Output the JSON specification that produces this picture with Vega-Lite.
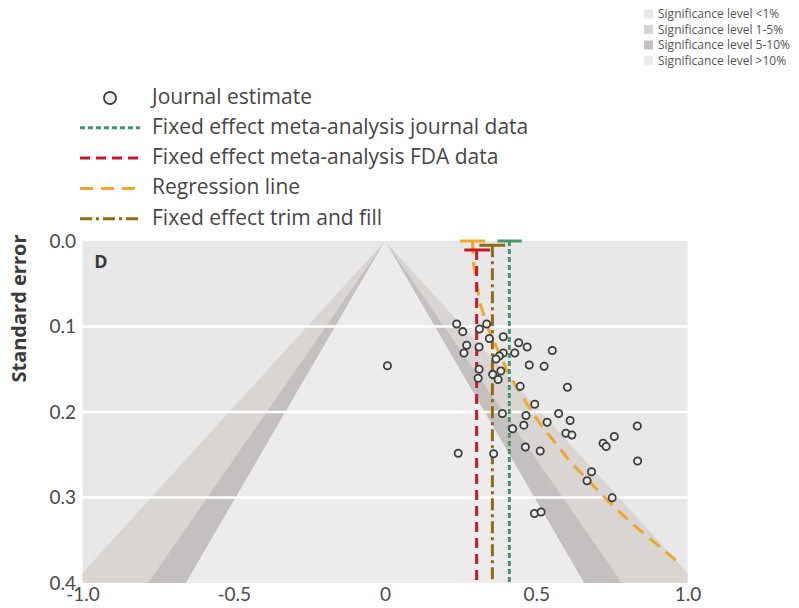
{
  "$schema": "https://vega.github.io/schema/vega-lite/v6.json",
  "width": 605,
  "height": 342,
  "autosize": {"type": "none"},
  "padding": {"left": 82.5, "top": 241, "right": 111.5, "bottom": 25},
  "config": {
    "font": "Open Sans",
    "view": {"fill": "#e8e8e8", "stroke": null},
    "legend": {"orient": "none", "legendX": 11, "legendY": -159, "padding": 0, "symbolSize": 900, "symbolStrokeWidth": 3, "symbolFillColor": "#e2e2e2", "labelFont": "Open Sans", "labelFontSize": 21, "labelColor": "#4a4545", "labelOffset": 25.5, "rowPadding": 3.3, "labelLimit": 700},
    "axisY": {"grid": false, "ticks": false, "domain": false, "labelFont": "Lato", "labelFontSize": 19, "labelColor": "#4a4a4a", "labelPadding": 7, "titleFont": "Open Sans", "titleFontSize": 20, "titleFontWeight": "bold", "titleColor": "#3a3a3a", "titleAnchor": "start", "titleAlign": "right", "titleY": -7, "titlePadding": 19},
    "axisX": {"grid": false, "domain": false, "ticks": true, "tickColor": "#ffffff", "tickSize": -5, "tickWidth": 1.5, "labelFont": "Lato", "labelFontSize": 19, "labelColor": "#4a4a4a", "labelPadding": 7, "labelFlush": false, "labelOverlap": false, "zindex": 1}
  },
  "datasets": {
    "bands": [
      {"level": "Significance level 1-5%", "part": "L15", "se": 0, "lo": 0, "hi": 0},
      {"level": "Significance level 1-5%", "part": "L15", "se": 0.4, "lo": -1.0304, "hi": -0.784},
      {"level": "Significance level 1-5%", "part": "R15", "se": 0, "lo": 0, "hi": 0},
      {"level": "Significance level 1-5%", "part": "R15", "se": 0.4, "lo": 0.784, "hi": 1.0304},
      {"level": "Significance level 5-10%", "part": "L510", "se": 0, "lo": 0, "hi": 0},
      {"level": "Significance level 5-10%", "part": "L510", "se": 0.4, "lo": -0.784, "hi": -0.658},
      {"level": "Significance level 5-10%", "part": "R510", "se": 0, "lo": 0, "hi": 0},
      {"level": "Significance level 5-10%", "part": "R510", "se": 0.4, "lo": 0.658, "hi": 0.784},
      {"level": "Significance level >10%", "part": "C", "se": 0, "lo": 0, "hi": 0},
      {"level": "Significance level >10%", "part": "C", "se": 0.4, "lo": -0.658, "hi": 0.658}
    ],
    "grid": [{"se": 0.1}, {"se": 0.2}, {"se": 0.3}],
    "regression": [
      {"series": "Regression line", "est": 0.289, "se": 0},
      {"series": "Regression line", "est": 0.294, "se": 0.03},
      {"series": "Regression line", "est": 0.314, "se": 0.0725},
      {"series": "Regression line", "est": 0.338, "se": 0.1},
      {"series": "Regression line", "est": 0.405, "se": 0.153},
      {"series": "Regression line", "est": 0.452, "se": 0.181},
      {"series": "Regression line", "est": 0.513, "se": 0.214},
      {"series": "Regression line", "est": 0.617, "se": 0.26},
      {"series": "Regression line", "est": 0.743, "se": 0.306},
      {"series": "Regression line", "est": 0.815, "se": 0.33},
      {"series": "Regression line", "est": 0.97, "se": 0.376}
    ],
    "vlines": [
      {"series": "Fixed effect meta-analysis journal data", "est": 0.411, "se": 0, "se2": 0.4},
      {"series": "Fixed effect meta-analysis FDA data", "est": 0.303, "se": 0.0105, "se2": 0.4},
      {"series": "Fixed effect trim and fill", "est": 0.355, "se": 0.005, "se2": 0.4}
    ],
    "caps": [
      {"series": "Regression line", "lo": 0.248, "hi": 0.331, "se": 0},
      {"series": "Fixed effect meta-analysis journal data", "lo": 0.371, "hi": 0.452, "se": 0},
      {"series": "Fixed effect meta-analysis FDA data", "lo": 0.262, "hi": 0.347, "se": 0.0105},
      {"series": "Fixed effect trim and fill", "lo": 0.312, "hi": 0.397, "se": 0.005}
    ],
    "points": [
      {"series": "Journal estimate", "est": 0.237, "se": 0.097},
      {"series": "Journal estimate", "est": 0.257, "se": 0.106},
      {"series": "Journal estimate", "est": 0.336, "se": 0.097},
      {"series": "Journal estimate", "est": 0.312, "se": 0.103},
      {"series": "Journal estimate", "est": 0.345, "se": 0.114},
      {"series": "Journal estimate", "est": 0.391, "se": 0.112},
      {"series": "Journal estimate", "est": 0.27, "se": 0.122},
      {"series": "Journal estimate", "est": 0.261, "se": 0.131},
      {"series": "Journal estimate", "est": 0.311, "se": 0.124},
      {"series": "Journal estimate", "est": 0.442, "se": 0.119},
      {"series": "Journal estimate", "est": 0.47, "se": 0.124},
      {"series": "Journal estimate", "est": 0.553, "se": 0.128},
      {"series": "Journal estimate", "est": 0.429, "se": 0.131},
      {"series": "Journal estimate", "est": 0.391, "se": 0.131},
      {"series": "Journal estimate", "est": 0.378, "se": 0.1345},
      {"series": "Journal estimate", "est": 0.367, "se": 0.138},
      {"series": "Journal estimate", "est": 0.477, "se": 0.145},
      {"series": "Journal estimate", "est": 0.526, "se": 0.1466},
      {"series": "Journal estimate", "est": 0.311, "se": 0.15},
      {"series": "Journal estimate", "est": 0.308, "se": 0.1606},
      {"series": "Journal estimate", "est": 0.356, "se": 0.156},
      {"series": "Journal estimate", "est": 0.383, "se": 0.152},
      {"series": "Journal estimate", "est": 0.374, "se": 0.162},
      {"series": "Journal estimate", "est": 0.447, "se": 0.17},
      {"series": "Journal estimate", "est": 0.603, "se": 0.171},
      {"series": "Journal estimate", "est": 0.495, "se": 0.191},
      {"series": "Journal estimate", "est": 0.388, "se": 0.2018},
      {"series": "Journal estimate", "est": 0.466, "se": 0.204},
      {"series": "Journal estimate", "est": 0.574, "se": 0.2018},
      {"series": "Journal estimate", "est": 0.612, "se": 0.21},
      {"series": "Journal estimate", "est": 0.536, "se": 0.212},
      {"series": "Journal estimate", "est": 0.459, "se": 0.2154},
      {"series": "Journal estimate", "est": 0.422, "se": 0.2195},
      {"series": "Journal estimate", "est": 0.598, "se": 0.2248},
      {"series": "Journal estimate", "est": 0.618, "se": 0.227},
      {"series": "Journal estimate", "est": 0.834, "se": 0.2164},
      {"series": "Journal estimate", "est": 0.758, "se": 0.2287},
      {"series": "Journal estimate", "est": 0.721, "se": 0.2366},
      {"series": "Journal estimate", "est": 0.731, "se": 0.2404},
      {"series": "Journal estimate", "est": 0.464, "se": 0.241},
      {"series": "Journal estimate", "est": 0.513, "se": 0.2456},
      {"series": "Journal estimate", "est": 0.242, "se": 0.2483},
      {"series": "Journal estimate", "est": 0.359, "se": 0.2488},
      {"series": "Journal estimate", "est": 0.835, "se": 0.2573},
      {"series": "Journal estimate", "est": 0.683, "se": 0.2698},
      {"series": "Journal estimate", "est": 0.668, "se": 0.2805},
      {"series": "Journal estimate", "est": 0.751, "se": 0.3004},
      {"series": "Journal estimate", "est": 0.494, "se": 0.3187},
      {"series": "Journal estimate", "est": 0.516, "se": 0.317},
      {"series": "Journal estimate", "est": 0.008, "se": 0.146}
    ],
    "panel": [{"label": "D"}]
  },
  "layer": [
    {
      "data": {"name": "bands"},
      "mark": {"type": "area", "orient": "horizontal", "opacity": 1, "clip": true},
      "encoding": {
        "y": {"field": "se", "type": "quantitative", "title": "Standard error", "scale": {"domain": [0, 0.4], "reverse": true, "nice": false, "zero": false}, "axis": {"values": [0, 0.1, 0.2, 0.3, 0.4], "format": ".1f"}},
        "x": {"field": "lo", "type": "quantitative", "title": null, "stack": null, "scale": {"domain": [-1, 1], "nice": false, "zero": false}, "axis": {"values": [-1, -0.5, 0, 0.5, 1], "labelExpr": "datum.value == 0 ? '0' : (datum.value < 0 ? '-' + format(-datum.value, '.1f') : format(datum.value, '.1f'))"}},
        "x2": {"field": "hi"},
        "detail": {"field": "part"},
        "fill": {
          "field": "level", "type": "nominal", "title": null,
          "scale": {"domain": ["Significance level <1%", "Significance level 1-5%", "Significance level 5-10%", "Significance level >10%"], "range": ["#e8e8e8", "#d9d5d3", "#c5c0c0", "#ececec"]},
          "legend": {"title": null, "orient": "none", "legendX": 560, "legendY": -233, "padding": 0, "symbolType": "square", "symbolSize": 81, "symbolStrokeWidth": 0, "labelFont": "Open Sans", "labelFontSize": 12, "labelColor": "#555555", "labelOffset": 3.5, "rowPadding": 3.5, "labelLimit": 300}
        }
      }
    },
    {
      "data": {"name": "grid"},
      "mark": {"type": "rule", "color": "#ffffff", "strokeWidth": 2.5},
      "encoding": {
        "y": {"field": "se", "type": "quantitative", "title": "Standard error"}
      }
    },
    {
      "data": {"name": "regression"},
      "mark": {"type": "line", "strokeWidth": 3, "clip": true},
      "encoding": {
        "x": {"field": "est", "type": "quantitative", "title": null},
        "y": {"field": "se", "type": "quantitative", "title": "Standard error"},
        "order": {"field": "se"},
        "stroke": {"field": "series", "type": "nominal", "title": null, "scale": {"domain": ["Journal estimate", "Fixed effect meta-analysis journal data", "Fixed effect meta-analysis FDA data", "Regression line", "Fixed effect trim and fill"], "range": ["#3d3d3d", "#3f9a6a", "#c8192b", "#eea82c", "#946b12"]}},
        "strokeDash": {"field": "series", "type": "nominal", "title": null, "scale": {"domain": ["Journal estimate", "Fixed effect meta-analysis journal data", "Fixed effect meta-analysis FDA data", "Regression line", "Fixed effect trim and fill"], "range": [[1, 0], [5, 3], [10, 6], [13, 8], [12, 4, 3, 4]]}}
      }
    },
    {
      "data": {"name": "vlines"},
      "mark": {"type": "rule", "strokeWidth": 3},
      "encoding": {
        "x": {"field": "est", "type": "quantitative", "title": null},
        "y": {"field": "se", "type": "quantitative", "title": "Standard error"},
        "y2": {"field": "se2"},
        "stroke": {"field": "series", "type": "nominal", "title": null, "scale": {"domain": ["Journal estimate", "Fixed effect meta-analysis journal data", "Fixed effect meta-analysis FDA data", "Regression line", "Fixed effect trim and fill"], "range": ["#3d3d3d", "#3f9a6a", "#c8192b", "#eea82c", "#946b12"]}},
        "strokeDash": {"field": "series", "type": "nominal", "title": null, "scale": {"domain": ["Journal estimate", "Fixed effect meta-analysis journal data", "Fixed effect meta-analysis FDA data", "Regression line", "Fixed effect trim and fill"], "range": [[1, 0], [5, 3], [10, 6], [13, 8], [12, 4, 3, 4]]}}
      }
    },
    {
      "data": {"name": "caps"},
      "mark": {"type": "rule", "strokeWidth": 3, "clip": false},
      "encoding": {
        "x": {"field": "lo", "type": "quantitative", "title": null},
        "x2": {"field": "hi"},
        "y": {"field": "se", "type": "quantitative", "title": "Standard error"},
        "stroke": {"field": "series", "type": "nominal", "title": null, "scale": {"domain": ["Journal estimate", "Fixed effect meta-analysis journal data", "Fixed effect meta-analysis FDA data", "Regression line", "Fixed effect trim and fill"], "range": ["#3d3d3d", "#3f9a6a", "#c8192b", "#eea82c", "#946b12"]}}
      }
    },
    {
      "data": {"name": "points"},
      "mark": {"type": "point", "filled": false, "fill": "#ececec", "fillOpacity": 1, "opacity": 1, "size": 330},
      "encoding": {
        "x": {"field": "est", "type": "quantitative", "title": null},
        "y": {"field": "se", "type": "quantitative", "title": "Standard error"},
        "stroke": {"field": "series", "type": "nominal", "title": null, "scale": {"domain": ["Journal estimate", "Fixed effect meta-analysis journal data", "Fixed effect meta-analysis FDA data", "Regression line", "Fixed effect trim and fill"], "range": ["#3d3d3d", "#3f9a6a", "#c8192b", "#eea82c", "#946b12"]}},
        "shape": {"field": "series", "type": "nominal", "title": null, "scale": {"domain": ["Journal estimate", "Fixed effect meta-analysis journal data", "Fixed effect meta-analysis FDA data", "Regression line", "Fixed effect trim and fill"], "range": ["M-0.4,0A0.4,0.4,0,1,1,0.4,0A0.4,0.4,0,1,1,-0.4,0Z", "M-2,0H2", "M-2,0H2", "M-2,0H2", "M-2,0H2"]}},
        "strokeWidth": {"field": "series", "type": "nominal", "title": null, "scale": {"type": "ordinal", "domain": ["Journal estimate", "Fixed effect meta-analysis journal data", "Fixed effect meta-analysis FDA data", "Regression line", "Fixed effect trim and fill"], "range": [1.8, 3, 3, 3, 3]}}
      }
    },
    {
      "data": {"name": "panel"},
      "mark": {"type": "text", "fontSize": 18, "fontWeight": "bold", "font": "Open Sans", "color": "#3a3a3a", "align": "center", "baseline": "middle"},
      "encoding": {
        "x": {"datum": -0.939},
        "y": {"datum": 0.0257},
        "text": {"field": "label"}
      }
    }
  ]
}
